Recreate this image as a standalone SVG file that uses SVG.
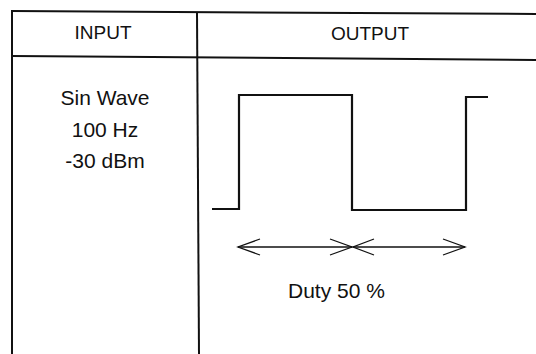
<svg xmlns="http://www.w3.org/2000/svg" width="536" height="354" viewBox="0 0 536 354">
<style>
.grid{stroke:#111;stroke-width:2;fill:none}
.wave{stroke:#111;stroke-width:2.2;fill:none;stroke-linejoin:miter}
.arr{stroke:#111;stroke-width:1.3;fill:none}
.hd{font-family:"Liberation Sans",Arial,sans-serif;font-size:19px;fill:#111;text-anchor:middle}
.tx{font-family:"Liberation Sans",Arial,sans-serif;font-size:21px;fill:#111}
</style>
<rect width="536" height="354" fill="#fff"/>
<g id="table">
<line class="grid" x1="12" y1="11" x2="536" y2="14"/>
<line class="grid" x1="12" y1="56" x2="536" y2="60"/>
<line class="grid" x1="12" y1="10" x2="12" y2="354"/>
<line class="grid" x1="197" y1="12" x2="199" y2="354"/>
</g>
<g id="header-input"><text class="hd" x="103" y="39">INPUT</text></g>
<g id="header-output"><text class="hd" x="370" y="40">OUTPUT</text></g>
<g id="input-text" class="tx" text-anchor="middle">
<text x="105" y="105" text-anchor="middle">Sin Wave</text>
<text x="105" y="137" text-anchor="middle">100 Hz</text>
<text x="105" y="168" text-anchor="middle">-30 dBm</text>
</g>
<g id="waveform">
<polyline class="wave" points="212,209 239,209 239,95 352,95 352,210 466,210 466,97 488,97"/>
</g>
<g id="connectors">
<line class="arr" x1="238" y1="247" x2="352" y2="247"/>
<polyline class="arr" points="260,239 238,247 260,255"/>
<polyline class="arr" points="330,239 352,247 330,255"/>
<line class="arr" x1="353" y1="247" x2="465" y2="247"/>
<polyline class="arr" points="374,239 353,247 374,255"/>
<polyline class="arr" points="443,239 465,247 443,255"/>
</g>
<g id="duty"><text class="tx" x="288" y="298">Duty 50 %</text></g>
</svg>
